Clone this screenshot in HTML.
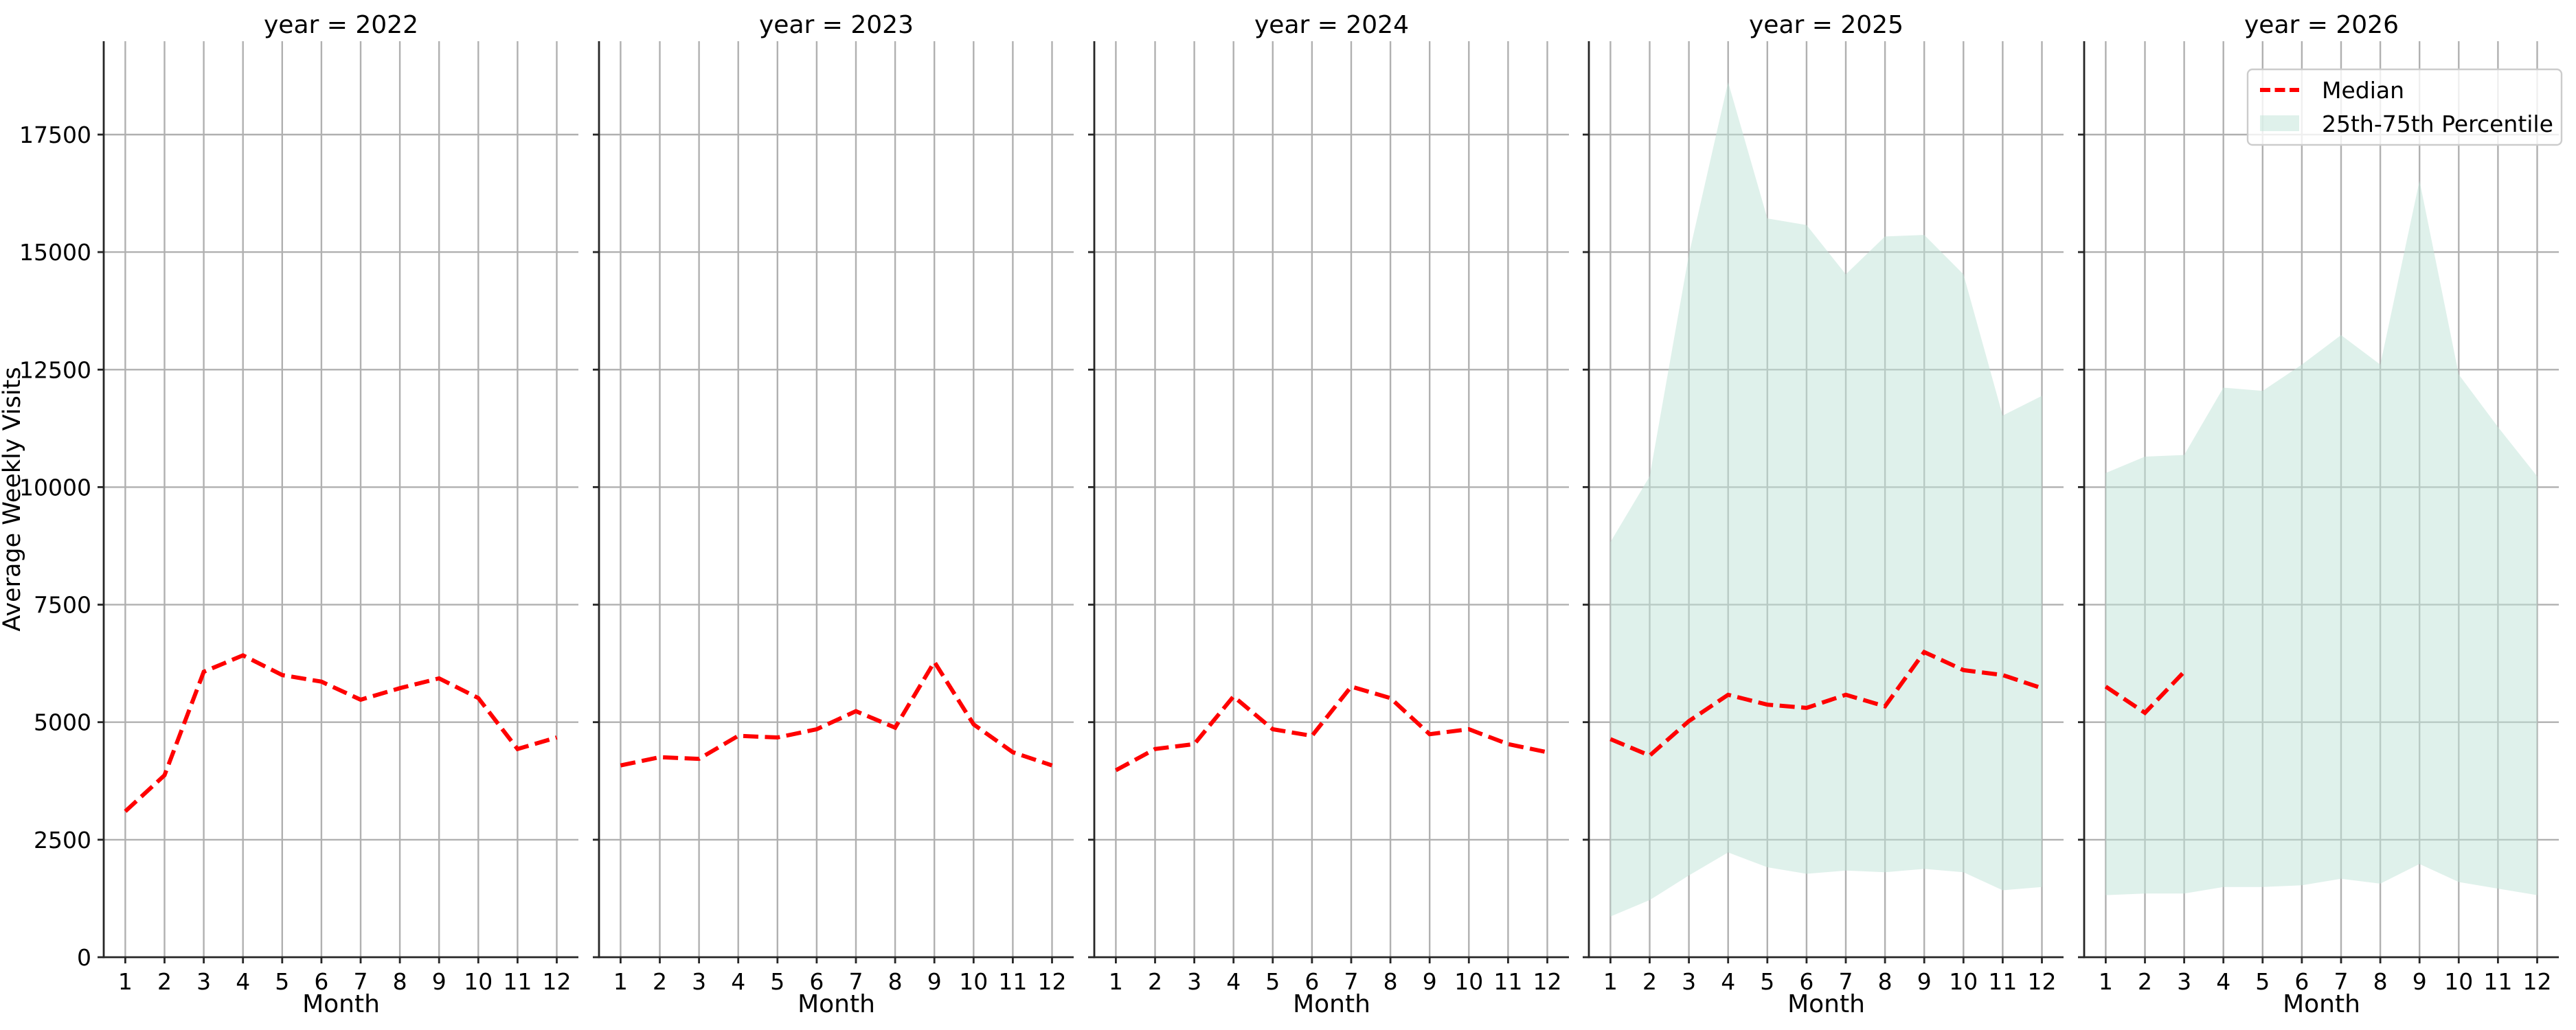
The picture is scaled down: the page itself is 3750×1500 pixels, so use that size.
<!DOCTYPE html>
<html><head><meta charset="utf-8"><style>
html,body{margin:0;padding:0;background:#fff}
svg{display:block}
text{font-family:"DejaVu Sans","Liberation Sans",sans-serif;fill:#000}
</style></head><body>
<svg width="3750" height="1500" viewBox="0 0 3750 1500" xmlns="http://www.w3.org/2000/svg">
<defs>
<g id="grid">
<g stroke="#b0b0b0" stroke-width="2.4">
<line x1="31.4" y1="60" x2="31.4" y2="1394"/><line x1="88.5" y1="60" x2="88.5" y2="1394"/><line x1="145.6" y1="60" x2="145.6" y2="1394"/><line x1="202.7" y1="60" x2="202.7" y2="1394"/><line x1="259.8" y1="60" x2="259.8" y2="1394"/><line x1="316.9" y1="60" x2="316.9" y2="1394"/><line x1="374" y1="60" x2="374" y2="1394"/><line x1="431.1" y1="60" x2="431.1" y2="1394"/><line x1="488.2" y1="60" x2="488.2" y2="1394"/><line x1="545.3" y1="60" x2="545.3" y2="1394"/><line x1="602.4" y1="60" x2="602.4" y2="1394"/><line x1="659.5" y1="60" x2="659.5" y2="1394"/>
<line x1="0" y1="1222.9" x2="691" y2="1222.9"/><line x1="0" y1="1051.7" x2="691" y2="1051.7"/><line x1="0" y1="880.6" x2="691" y2="880.6"/><line x1="0" y1="709.4" x2="691" y2="709.4"/><line x1="0" y1="538.3" x2="691" y2="538.3"/><line x1="0" y1="367.1" x2="691" y2="367.1"/><line x1="0" y1="196" x2="691" y2="196"/>
</g>
</g>
<g id="axes">
<g stroke="#262626" stroke-width="2.8">
<line x1="0" y1="60" x2="0" y2="1395.4"/><line x1="-1.4" y1="1394" x2="691" y2="1394"/>
<line x1="-9" y1="1394" x2="0" y2="1394"/><line x1="-9" y1="1222.9" x2="0" y2="1222.9"/><line x1="-9" y1="1051.7" x2="0" y2="1051.7"/><line x1="-9" y1="880.6" x2="0" y2="880.6"/><line x1="-9" y1="709.4" x2="0" y2="709.4"/><line x1="-9" y1="538.3" x2="0" y2="538.3"/><line x1="-9" y1="367.1" x2="0" y2="367.1"/><line x1="-9" y1="196" x2="0" y2="196"/>
<line x1="31.4" y1="1394" x2="31.4" y2="1403"/><line x1="88.5" y1="1394" x2="88.5" y2="1403"/><line x1="145.6" y1="1394" x2="145.6" y2="1403"/><line x1="202.7" y1="1394" x2="202.7" y2="1403"/><line x1="259.8" y1="1394" x2="259.8" y2="1403"/><line x1="316.9" y1="1394" x2="316.9" y2="1403"/><line x1="374" y1="1394" x2="374" y2="1403"/><line x1="431.1" y1="1394" x2="431.1" y2="1403"/><line x1="488.2" y1="1394" x2="488.2" y2="1403"/><line x1="545.3" y1="1394" x2="545.3" y2="1403"/><line x1="602.4" y1="1394" x2="602.4" y2="1403"/><line x1="659.5" y1="1394" x2="659.5" y2="1403"/>
</g>
<g font-size="33" text-anchor="middle">
<text x="31.4" y="1441">1</text><text x="88.5" y="1441">2</text><text x="145.6" y="1441">3</text><text x="202.7" y="1441">4</text><text x="259.8" y="1441">5</text><text x="316.9" y="1441">6</text><text x="374" y="1441">7</text><text x="431.1" y="1441">8</text><text x="488.2" y="1441">9</text><text x="545.3" y="1441">10</text><text x="602.4" y="1441">11</text><text x="659.5" y="1441">12</text>
<text x="345.5" y="1474" font-size="36">Month</text>
</g>
</g>
</defs>

<g transform="translate(151,0)">
<use href="#grid"/>
<polyline fill="none" stroke="#ff0000" stroke-width="6" stroke-dasharray="22,9.5" points="31.4,1181.6 88.5,1129 145.6,978.3 202.7,954.4 259.8,983.1 316.9,992.7 374,1019 431.1,1002.2 488.2,987.9 545.3,1016.6 602.4,1090.8 659.5,1074"/>
<use href="#axes"/>
<text x="345.5" y="48" font-size="36" text-anchor="middle">year = 2022</text>
<g font-size="33" text-anchor="end">
<text x="-18" y="1406">0</text><text x="-18" y="1235">2500</text><text x="-18" y="1063.7">5000</text><text x="-18" y="892.6">7500</text><text x="-18" y="721.4">10000</text><text x="-18" y="550.3">12500</text><text x="-18" y="379.1">15000</text><text x="-18" y="208">17500</text>
</g>
</g>
<text transform="translate(29,727) rotate(-90)" font-size="35" text-anchor="middle">Average Weekly Visits</text>

<g transform="translate(872,0)">
<use href="#grid"/>
<polyline fill="none" stroke="#ff0000" stroke-width="6" stroke-dasharray="22,9.5" points="31.4,1114.7 88.5,1102.7 145.6,1105.1 202.7,1071.6 259.8,1074 316.9,1062 374,1035.7 431.1,1059.7 488.2,963.9 545.3,1054.9 602.4,1095.5 659.5,1114.7"/>
<use href="#axes"/>
<text x="345.5" y="48" font-size="36" text-anchor="middle">year = 2023</text>
</g>

<g transform="translate(1593,0)">
<use href="#grid"/>
<polyline fill="none" stroke="#ff0000" stroke-width="6" stroke-dasharray="22,9.5" points="31.4,1121.8 88.5,1090.8 145.6,1083.6 202.7,1014.2 259.8,1062 316.9,1071.6 374,999.9 431.1,1016.6 488.2,1069.2 545.3,1062 602.4,1083.6 659.5,1095.5"/>
<use href="#axes"/>
<text x="345.5" y="48" font-size="36" text-anchor="middle">year = 2024</text>
</g>

<g transform="translate(2313,0)">
<use href="#grid"/>
<polygon fill="#bfe3d8" fill-opacity="0.5" points="31.4,789.4 88.5,693.7 145.6,370.8 202.7,119.6 259.8,318.1 316.9,327.7 374,399.5 431.1,344.4 488.2,342.1 545.3,399.5 602.4,605.2 659.5,576.5 659.5,1291.7 602.4,1296.5 545.3,1270.2 488.2,1265.4 431.1,1270.2 374,1267.8 316.9,1272.5 259.8,1263 202.7,1241.4 145.6,1274.9 88.5,1310.8 31.4,1334.7"/>
<polyline fill="none" stroke="#ff0000" stroke-width="6" stroke-dasharray="22,9.5" points="31.4,1076.4 88.5,1100.3 145.6,1050.1 202.7,1011.8 259.8,1026.2 316.9,1030.9 374,1011.8 431.1,1028.6 488.2,949.6 545.3,975.9 602.4,983.1 659.5,1002.2"/>
<use href="#axes"/>
<text x="345.5" y="48" font-size="36" text-anchor="middle">year = 2025</text>
</g>

<g transform="translate(3034,0)">
<use href="#grid"/>
<polygon fill="#bfe3d8" fill-opacity="0.5" points="31.4,688.9 88.5,665 145.6,662.6 202.7,564.5 259.8,569.3 316.9,531 374,488 431.1,531 488.2,263.1 545.3,545.4 602.4,621.9 659.5,693.7 659.5,1303.6 602.4,1294.1 545.3,1284.5 488.2,1258.2 431.1,1286.9 374,1279.7 316.9,1289.3 259.8,1291.7 202.7,1291.7 145.6,1301.2 88.5,1301.2 31.4,1303.6"/>
<polyline fill="none" stroke="#ff0000" stroke-width="6" stroke-dasharray="22,9.5" points="31.4,999.9 88.5,1038.1 145.6,978.3"/>
<use href="#axes"/>
<text x="345.5" y="48" font-size="36" text-anchor="middle">year = 2026</text>
</g>

<rect x="3272" y="101" width="457" height="110" rx="7" fill="#ffffff" fill-opacity="0.8" stroke="#cccccc" stroke-width="2.4"/>
<line x1="3290" y1="131" x2="3347" y2="131" stroke="#ff0000" stroke-width="6" stroke-dasharray="15,6.5"/>
<text x="3380" y="143" font-size="33">Median</text>
<rect x="3290" y="168" width="57" height="23" fill="#bfe3d8" fill-opacity="0.5"/>
<text x="3380" y="192" font-size="33">25th-75th Percentile</text>
</svg>
</body></html>
